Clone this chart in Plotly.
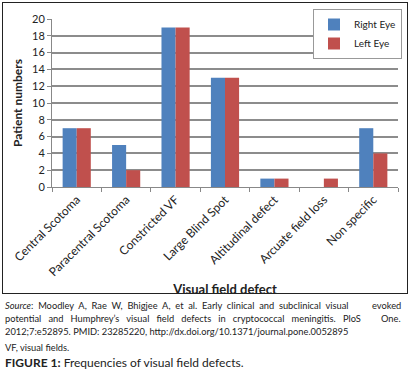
import plotly.graph_objects as go

categories = ["Central Scotoma", "Paracentral Scotoma", "Constricted VF", "Large Blind Spot",
              "Altitudinal defect", "Arcuate field loss", "Non specific"]
right_eye = [7, 5, 19, 13, 1, 0, 7]
left_eye = [7, 2, 19, 13, 1, 1, 4]
y_ticks = [0, 2, 4, 6, 8, 10, 12, 14, 16, 18, 20]

W, H = 409, 369
L, R, T, B = 52, 398, 19, 187

def px(x):
    return x / W

def py(y):
    return 1 - y / H

FONT = "Lato, 'Open Sans', sans-serif"
TXT = "#222"

fig = go.Figure()
fig.add_trace(go.Bar(x=categories, y=right_eye, name="Right Eye", marker=dict(color="#4F81BD", line=dict(width=0))))
fig.add_trace(go.Bar(x=categories, y=left_eye, name="Left Eye", marker=dict(color="#C0504D", line=dict(width=0))))
# empty trace so that the frame axes (outer chart border) are drawn
fig.add_trace(go.Scatter(x=[], y=[], xaxis="x2", yaxis="y2", showlegend=False, hoverinfo="skip"))

fig.update_layout(
    width=W, height=H,
    margin=dict(l=0, r=0, t=0, b=0, autoexpand=False),
    paper_bgcolor="white", plot_bgcolor="rgba(0,0,0,0)",
    barmode="group", bargap=0.43, bargroupgap=0,
    font=dict(family=FONT, color=TXT, size=10),
    showlegend=True,
    legend=dict(x=px(402), y=py(9), xanchor="right", yanchor="top",
                bordercolor="#999", borderwidth=1, bgcolor="white",
                font=dict(size=10, family=FONT, color=TXT), tracegroupgap=0,
                itemwidth=30),
    xaxis=dict(domain=[px(L), px(R)], anchor="y", tickangle=-45, showline=True, linecolor="#888", linewidth=1,
               ticks="outside", ticklen=4, tickcolor="#888",
               tickson="boundaries", tickfont=dict(size=12, family=FONT, color=TXT),
               title=dict(text="<b>Visual field defect</b>", font=dict(size=13, family=FONT, color=TXT), standoff=6)),
    yaxis=dict(domain=[py(B), py(T)], anchor="x", range=[0, 20], tickvals=y_ticks, showgrid=True,
               gridcolor="#8c8c8c", gridwidth=1.5,
               showline=True, linecolor="#888", linewidth=1, ticks="outside", ticklen=4, tickcolor="#888",
               zeroline=False, tickfont=dict(size=11, family=FONT, color=TXT),
               title=dict(text="<b>Patient numbers</b>", font=dict(size=12, family=FONT, color=TXT), standoff=6)),
    xaxis2=dict(domain=[px(2.5), px(406.5)], anchor="y2", range=[0, 1], showline=True, mirror=True,
                linecolor="#222", linewidth=1, showgrid=False, zeroline=False, showticklabels=False,
                ticks="", fixedrange=True),
    yaxis2=dict(domain=[py(292.5), py(2.5)], anchor="x2", range=[0, 1], showline=True, mirror=True,
                linecolor="#222", linewidth=1, showgrid=False, zeroline=False, showticklabels=False,
                ticks="", fixedrange=True),
)

SRC_SIZE = 9.3
G1 = " \u00a0"
G2 = " \u00a0\u00a0"
line1_words = "Source: Moodley A, Rae W, Bhigjee A, et al. Early clinical and subclinical visual evoked".split(" ")
line2_words = "potential and Humphrey\u2019s visual field defects in cryptococcal meningitis. PloS One.".split(" ")
line1_words[0] = "<i>Source</i>:"
line3 = "2012;7:e52895. PMID: 23285220, http://dx.doi.org/10.1371/journal.pone.0052895"

for words, gap, yy in [(line1_words, G1, 305), (line2_words, G2, 318)]:
    fig.add_annotation(text=gap.join(words[:-1]), xref="paper", yref="paper", x=px(3), y=py(yy),
                       xanchor="left", yanchor="middle", showarrow=False,
                       font=dict(size=SRC_SIZE, family=FONT, color=TXT))
    fig.add_annotation(text=words[-1], xref="paper", yref="paper", x=px(403), y=py(yy),
                       xanchor="right", yanchor="middle", showarrow=False,
                       font=dict(size=SRC_SIZE, family=FONT, color=TXT))
fig.add_annotation(text=line3, xref="paper", yref="paper", x=px(3), y=py(331),
                   xanchor="left", yanchor="middle", showarrow=False,
                   font=dict(size=SRC_SIZE, family=FONT, color=TXT))
fig.add_annotation(text="VF, visual fields.", xref="paper", yref="paper", x=px(3), y=py(347),
                   xanchor="left", yanchor="middle", showarrow=False,
                   font=dict(size=SRC_SIZE, family=FONT, color=TXT))
fig.add_annotation(text="<b>FIGURE 1:</b> Frequencies of visual field defects.", xref="paper", yref="paper",
                   x=px(3), y=py(362), xanchor="left", yanchor="middle", showarrow=False,
                   font=dict(size=12, family=FONT, color=TXT))

fig.write_html("out.html", config={"displayModeBar": False},
               post_script="document.body.style.margin='0';document.body.style.overflow='hidden';")
